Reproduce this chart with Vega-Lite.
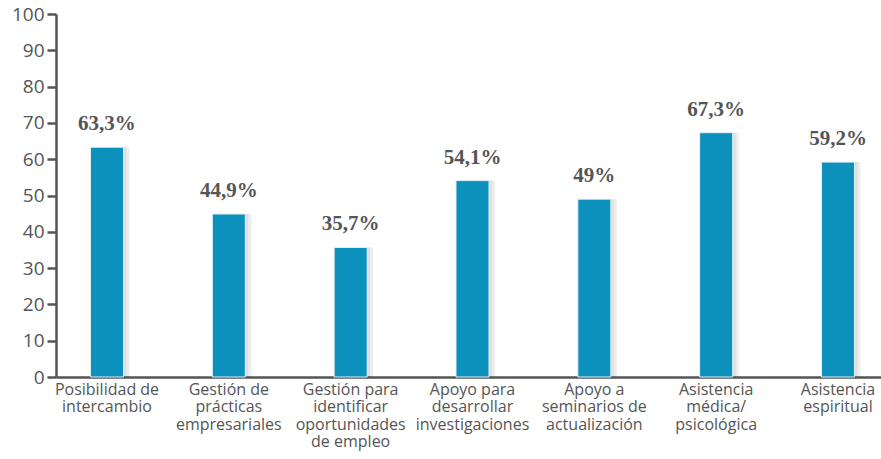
{
  "$schema": "https://vega.github.io/schema/vega-lite/v6.json",
  "autosize": {"type": "none"},
  "padding": {"left": 56, "top": 14, "right": 0, "bottom": 82},
  "width": 833,
  "height": 363,
  "background": "white",
  "data": {"values": [
    {"categoria": "Posibilidad de\nintercambio", "valor": 63.3, "etiqueta": "63,3%"},
    {"categoria": "Gestión de\nprácticas\nempresariales", "valor": 44.9, "etiqueta": "44,9%"},
    {"categoria": "Gestión para\nidentificar\noportunidades\nde empleo", "valor": 35.7, "etiqueta": "35,7%"},
    {"categoria": "Apoyo para\ndesarrollar\ninvestigaciones", "valor": 54.1, "etiqueta": "54,1%"},
    {"categoria": "Apoyo a\nseminarios de\nactualización", "valor": 49, "etiqueta": "49%"},
    {"categoria": "Asistencia\nmédica/\npsicológica", "valor": 67.3, "etiqueta": "67,3%"},
    {"categoria": "Asistencia\nespiritual", "valor": 59.2, "etiqueta": "59,2%"}
  ]},
  "encoding": {
    "x": {
      "field": "categoria", "type": "nominal", "sort": null,
      "scale": {"paddingInner": 0.729, "paddingOuter": 0.283},
      "axis": {
        "title": null, "labelAngle": 0, "labelExpr": "split(datum.value, '\\n')",
        "labelFont": "Open Sans", "labelFontSize": 16, "labelColor": "#555555",
        "labelLineHeight": 17.5, "labelPadding": 4, "labelLimit": 200,
        "ticks": false, "domainColor": "#555555", "domainWidth": 2.5, "grid": false
      }
    },
    "y": {
      "field": "valor", "type": "quantitative",
      "scale": {"domain": [0, 100], "nice": false},
      "axis": {
        "title": null, "values": [0,10,20,30,40,50,60,70,80,90,100],
        "labelFont": "Open Sans", "labelFontSize": 19, "labelColor": "#555555",
        "labelPadding": 3, "tickSize": 9, "tickWidth": 2.5, "tickColor": "#555555",
        "domainColor": "#555555", "domainWidth": 2.5, "grid": false
      }
    }
  },
  "layer": [
    {"mark": {"type": "bar", "color": "#000000", "opacity": 0.07, "xOffset": 6}},
    {"mark": {"type": "bar", "color": "#000000", "opacity": 0.06, "xOffset": 3}},
    {"mark": {"type": "bar", "color": "#0c91bd", "stroke": "#e3f1f6", "strokeWidth": 1}},
    {"mark": {"type": "text", "dy": -13, "baseline": "bottom", "font": "Liberation Serif", "fontWeight": "bold", "fontSize": 21, "color": "#555555"},
     "encoding": {"text": {"field": "etiqueta"}}}
  ],
  "config": {"view": {"stroke": null}}
}
